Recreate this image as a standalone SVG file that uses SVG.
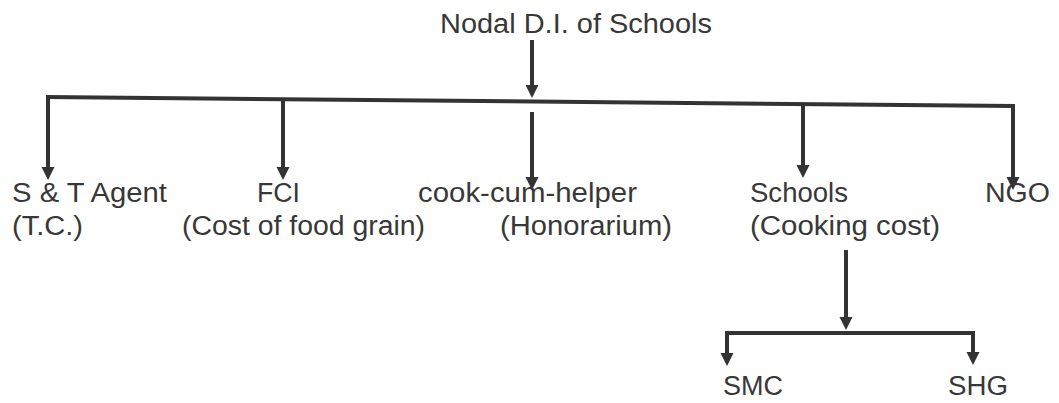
<svg xmlns="http://www.w3.org/2000/svg" width="1059" height="403" viewBox="0 0 1059 403">
<style>
.t{font-family:"Liberation Sans",Arial,sans-serif;font-size:27px;fill:#383838}
.c{stroke:#333;stroke-width:4;fill:none}
</style>
<defs>
<marker id="ah" markerUnits="userSpaceOnUse" markerWidth="14" markerHeight="14" refX="3" refY="6.5" orient="auto">
<path d="M0,0 L13,6.5 L0,13 z" fill="#333"/>
</marker>
</defs>
<rect width="1059" height="403" fill="#fff"/>
<g id="connectors">
<line class="c" x1="532" y1="40" x2="532" y2="88" marker-end="url(#ah)"/>
<path class="c" d="M46,97 L1015,106"/>
<line class="c" x1="48" y1="97" x2="48" y2="170" marker-end="url(#ah)"/>
<line class="c" x1="283" y1="99" x2="283" y2="170" marker-end="url(#ah)"/>
<line class="c" x1="532" y1="112" x2="532" y2="180" marker-end="url(#ah)"/>
<line class="c" x1="803" y1="104" x2="803" y2="168" marker-end="url(#ah)"/>
<line class="c" x1="1013" y1="106" x2="1013" y2="180" marker-end="url(#ah)"/>
<line class="c" x1="846" y1="250" x2="846" y2="320" marker-end="url(#ah)"/>
<path class="c" d="M725,333 L975,333"/>
<line class="c" x1="727" y1="333" x2="727" y2="356" marker-end="url(#ah)"/>
<line class="c" x1="973" y1="333" x2="973" y2="355" marker-end="url(#ah)"/>
</g>
<g id="n-nodal"><text class="t" x="440" y="33" textLength="272" lengthAdjust="spacingAndGlyphs">Nodal D.I. of Schools</text></g>
<g id="n-st"><text class="t" x="12" y="202" textLength="155" lengthAdjust="spacingAndGlyphs">S &amp; T Agent</text><text class="t" x="12" y="235" textLength="71" lengthAdjust="spacingAndGlyphs">(T.C.)</text></g>
<g id="n-fci"><text class="t" x="257" y="202" textLength="43" lengthAdjust="spacingAndGlyphs">FCI</text><text class="t" x="182" y="235" textLength="243" lengthAdjust="spacingAndGlyphs">(Cost of food grain)</text></g>
<g id="n-cook"><text class="t" x="418" y="202" textLength="219" lengthAdjust="spacingAndGlyphs">cook-cum-helper</text><text class="t" x="500" y="235" textLength="172" lengthAdjust="spacingAndGlyphs">(Honorarium)</text></g>
<g id="n-schools"><text class="t" x="750" y="202" textLength="98" lengthAdjust="spacingAndGlyphs">Schools</text><text class="t" x="750" y="235" textLength="190" lengthAdjust="spacingAndGlyphs">(Cooking cost)</text></g>
<g id="n-ngo"><text class="t" x="985" y="202" textLength="65" lengthAdjust="spacingAndGlyphs">NGO</text></g>
<g id="n-smc"><text class="t" x="723" y="395" textLength="60" lengthAdjust="spacingAndGlyphs">SMC</text></g>
<g id="n-shg"><text class="t" x="948" y="395" textLength="60" lengthAdjust="spacingAndGlyphs">SHG</text></g>
</svg>
